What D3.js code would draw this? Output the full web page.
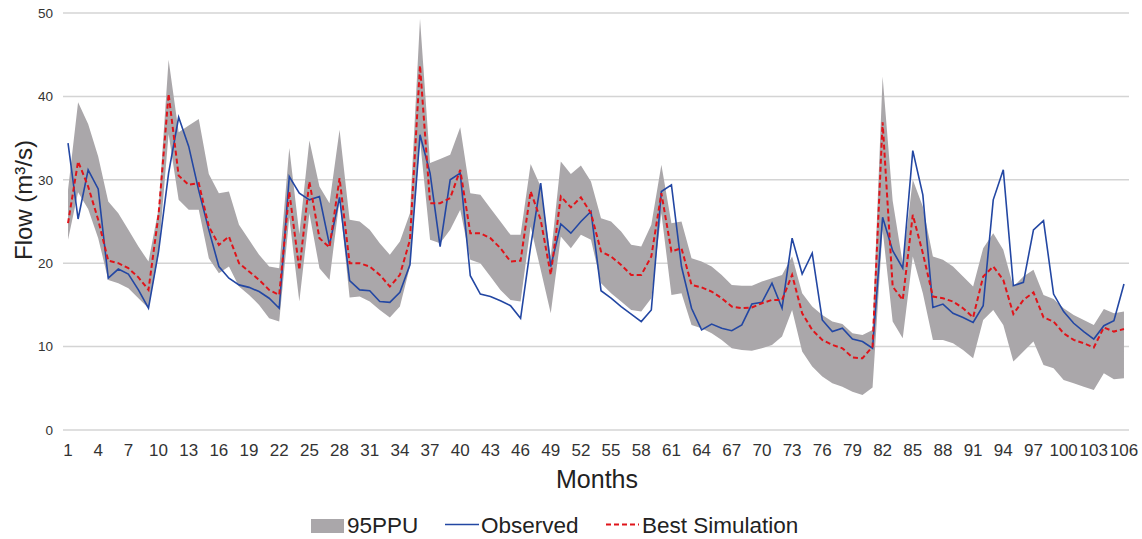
<!DOCTYPE html>
<html lang="en">
<head>
  <meta http-equiv="Content-Type" content="text/html; charset=utf-8">
  <title></title>
  <style type="text/css">
    body { margin: 0; background: #fff; }
    text { font-family: "Liberation Sans", Arial, sans-serif; fill: #333; }
  </style>
</head>
<body>
<script src="https://cdn.jsdelivr.net/npm/d3@7"></script>
<script>
  //----------------------------------------------------------------------------
  var months = d3.range(1, 107);

  var observed = [
    34.4, 25.3, 31.2, 28.9, 18.2, 19.3, 18.7, 16.8, 14.6, 21.4,
    30.8, 37.5, 34.0, 28.7, 24.0, 19.6, 18.2, 17.4, 17.1, 16.6,
    15.8, 14.6, 30.4, 28.4, 27.6, 28.0, 22.2, 27.9, 17.9, 16.8,
    16.7, 15.4, 15.3, 16.5, 19.8, 35.4, 30.8, 22.0, 30.0, 30.8,
    18.5, 16.3, 16.0, 15.5, 14.9, 13.4, 22.0, 29.6, 19.6, 24.7,
    23.6, 25.0, 26.2, 16.7, 15.8, 14.8, 13.9, 13.0, 14.4, 28.6,
    29.4, 19.6, 14.6, 12.0, 12.7, 12.2, 11.9, 12.6, 15.1, 15.3,
    17.6, 14.6, 23.0, 18.7, 21.2, 13.2, 11.8, 12.2, 10.9, 10.6,
    9.8, 25.5, 21.5, 19.4, 33.5, 28.2, 14.7, 15.1, 14.0, 13.5,
    12.9, 14.9, 27.6, 31.2, 17.3, 17.7, 24.0, 25.1, 16.3, 14.2,
    12.8, 11.8, 10.9, 12.5, 13.1, 17.5
  ];

  var bestSim = [
    24.8, 32.2, 29.2, 25.2, 20.3, 20.0, 19.4, 18.3, 16.8, 25.8,
    40.3, 30.5, 29.4, 29.6, 24.4, 22.2, 23.2, 20.0, 19.0, 18.0,
    16.8, 16.2, 28.6, 19.2, 29.8, 23.0, 21.9, 30.2, 20.0, 20.0,
    19.6, 18.6, 17.2, 18.6, 22.8, 43.7, 27.2, 27.2, 27.8, 31.2,
    23.6, 23.6, 23.0, 21.8, 20.2, 20.3, 28.6, 25.2, 18.6, 28.0,
    26.7, 27.9, 26.0, 21.4, 20.8, 19.8, 18.6, 18.6, 20.8, 28.4,
    21.4, 21.8, 17.4, 17.1, 16.6, 15.8, 14.8, 14.6, 14.7, 15.2,
    15.6, 15.6, 18.6, 14.0, 12.0, 10.8, 10.2, 9.8, 8.7, 8.6,
    10.0, 36.9, 17.2, 15.6, 25.8, 21.2, 16.0, 15.8, 15.4, 14.6,
    13.5, 18.4, 19.6, 18.0, 13.9, 15.6, 16.5, 13.5, 13.0, 11.6,
    10.8, 10.4, 9.9, 12.3, 11.8, 12.1
  ];

  var ppuUpper = [
    28.8, 39.3, 36.7, 32.8, 27.4, 26.0, 24.0, 22.0, 20.2, 26.5,
    44.4, 35.7, 36.5, 37.3, 30.7, 28.4, 28.6, 24.6, 22.8, 21.0,
    19.6, 19.4, 33.8, 23.5, 34.7, 29.2, 27.2, 36.0, 25.2, 25.0,
    24.0, 22.4, 21.0, 22.6, 26.0, 49.3, 32.0, 32.5, 33.0, 36.3,
    28.4, 28.2, 26.6, 25.0, 23.4, 23.4, 31.9, 29.2, 20.8, 32.2,
    30.7, 31.7, 29.8, 25.4, 25.0, 23.8, 22.2, 22.0, 24.6, 31.8,
    24.8, 25.0, 20.6, 20.2, 19.6, 18.6, 17.4, 17.3, 17.3, 17.8,
    18.2, 18.6, 20.8, 16.4, 14.8, 13.8, 13.0, 12.7, 11.6, 11.4,
    12.0, 42.4, 27.5, 20.0, 30.0, 26.8, 20.8, 20.4, 19.6, 18.4,
    17.2, 21.8, 23.6, 21.6, 17.2, 18.4, 19.2, 16.2, 15.7, 14.6,
    13.8, 13.2, 12.6, 14.5, 14.0, 14.2
  ];

  var ppuLower = [
    22.8, 28.5, 26.5, 23.0, 18.0, 17.6, 17.0, 15.8, 14.6, 21.0,
    35.5, 27.6, 26.4, 26.4, 20.6, 18.8, 19.6, 17.2, 16.2, 15.0,
    13.4, 13.0, 25.5, 15.4, 26.0, 19.4, 18.0, 27.6, 15.9, 16.0,
    15.4, 14.4, 13.5, 14.8, 19.6, 34.8, 22.8, 22.4, 24.0, 26.4,
    20.4, 20.0, 18.4, 16.8, 15.6, 15.4, 24.4, 19.2, 14.0, 23.2,
    21.8, 23.4, 22.8, 17.6, 16.4, 15.4, 14.4, 14.2, 15.8, 26.0,
    16.2, 16.4, 12.6, 12.2, 11.6, 10.8, 9.8, 9.6, 9.5, 9.8,
    10.2, 11.2, 14.4, 9.4, 7.6, 6.4, 5.6, 5.2, 4.6, 4.2,
    5.1, 24.0, 13.0, 11.0, 20.8, 16.4, 10.8, 10.8, 10.4, 9.6,
    8.6, 13.2, 14.4, 12.6, 8.2, 9.4, 10.6, 7.8, 7.4, 6.0,
    5.6, 5.2, 4.8, 6.8, 6.1, 6.2
  ];

  var yTicks = [0, 10, 20, 30, 40, 50];
  var xTickLabels = months.filter(function(m) { return (m - 1) % 3 === 0; });

  var width = 1142;
  var height = 539;
  var plotLeft = 63, plotRight = 1129, plotTop = 13, plotBottom = 430;

  var svg = d3.select("body")
    .append("svg")
      .attr("width", width)
      .attr("height", height);

  var x = d3.scaleBand().domain(months).range([plotLeft, plotRight]);
  var y = d3.scaleLinear().domain([0, 50]).range([plotBottom, plotTop]);
  var cx = function(m) { return x(m) + x.bandwidth() / 2; };

  // gridlines
  svg.append("g")
    .selectAll("line")
    .data(yTicks)
    .enter().append("line")
      .attr("x1", plotLeft).attr("x2", plotRight)
      .attr("y1", function(d) { return y(d); })
      .attr("y2", function(d) { return y(d); })
      .attr("stroke", "#d4d4d4")
      .attr("stroke-width", 1.5);

  // y axis labels
  svg.append("g")
    .selectAll("text")
    .data(yTicks)
    .enter().append("text")
      .attr("x", 53)
      .attr("y", function(d) { return y(d); })
      .attr("dy", "0.35em")
      .attr("text-anchor", "end")
      .style("font-size", "13.5px")
      .text(function(d) { return d; });

  // x axis labels
  svg.append("g")
    .selectAll("text")
    .data(xTickLabels)
    .enter().append("text")
      .attr("x", function(d) { return cx(d); })
      .attr("y", 456)
      .attr("text-anchor", "middle")
      .style("font-size", "17px")
      .text(function(d) { return d; });

  // 95PPU band
  var band = d3.area()
    .x(function(d, i) { return cx(months[i]); })
    .y0(function(d, i) { return y(ppuLower[i]); })
    .y1(function(d, i) { return y(ppuUpper[i]); });

  svg.append("path")
    .datum(months)
    .attr("d", band)
    .attr("fill", "#aaa7aa");

  var line = function(vals) {
    return d3.line()
      .x(function(d, i) { return cx(months[i]); })
      .y(function(d) { return y(d); })(vals);
  };

  svg.append("path")
    .attr("d", line(observed))
    .attr("fill", "none")
    .attr("stroke", "#2347a3")
    .attr("stroke-width", 1.6);

  svg.append("path")
    .attr("d", line(bestSim))
    .attr("fill", "none")
    .attr("stroke", "#e0141a")
    .attr("stroke-width", 2)
    .attr("stroke-dasharray", "5,3");

  // axis titles
  svg.append("text")
    .attr("transform", "translate(32,200) rotate(-90)")
    .attr("text-anchor", "middle")
    .style("font-size", "24px")
    .style("fill", "#222")
    .text("Flow (m³/s)");

  svg.append("text")
    .attr("x", 597)
    .attr("y", 488)
    .attr("text-anchor", "middle")
    .style("font-size", "25px")
    .style("fill", "#222")
    .text("Months");

  // legend
  var lg = svg.append("g");
  lg.append("rect")
    .attr("x", 311).attr("y", 519)
    .attr("width", 33).attr("height", 14)
    .attr("fill", "#aaa7aa");
  lg.append("text")
    .attr("x", 347).attr("y", 533)
    .style("font-size", "22.5px").style("fill", "#222")
    .text("95PPU");
  lg.append("line")
    .attr("x1", 445).attr("x2", 479)
    .attr("y1", 524.5).attr("y2", 524.5)
    .attr("stroke", "#2347a3").attr("stroke-width", 1.6);
  lg.append("text")
    .attr("x", 481).attr("y", 533)
    .style("font-size", "22.5px").style("fill", "#222")
    .text("Observed");
  lg.append("line")
    .attr("x1", 606).attr("x2", 639)
    .attr("y1", 524.5).attr("y2", 524.5)
    .attr("stroke", "#e0141a").attr("stroke-width", 2)
    .attr("stroke-dasharray", "5,3");
  lg.append("text")
    .attr("x", 642).attr("y", 533)
    .style("font-size", "22.5px").style("fill", "#222")
    .text("Best Simulation");

  //----------------------------------------------------------------------------
</script>
</body>
</html>
